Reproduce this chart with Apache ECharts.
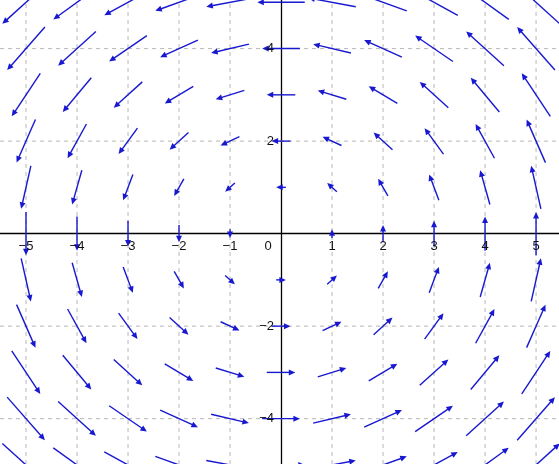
<!DOCTYPE html>
<html><head><meta charset="utf-8">
<script src="https://cdn.jsdelivr.net/npm/echarts@6/dist/echarts.min.js"></script>
<style>html,body{margin:0;padding:0;background:#fff}#c{width:559px;height:464px}</style>
</head><body><div id="c"></div>
<script>
// grid point coordinates
var xs = [-5, -4, -3, -2, -1, 0, 1, 2, 3, 4, 5];
var ys = [-5, -4, -3, -2, -1, 0, 1, 2, 3, 4, 5];
// horizontal component of arrows, one per row (y = -5 .. 5)
var uByRow = [0.93, 0.74, 0.56, 0.37, 0.19, 0, -0.19, -0.37, -0.56, -0.74, -0.93];
// vertical component of arrows, one per column (x = -5 .. 5)
var vByCol = [-0.93, -0.74, -0.56, -0.37, -0.19, 0, 0.19, 0.37, 0.56, 0.74, 0.93];
// tick labels / grid lines
var xTicks = [-5, -4, -3, -2, -1, 0, 1, 2, 3, 4, 5];
var yTicks = [-4, -2, 2, 4];
var xGrid = [-5, -4, -3, -2, -1, 1, 2, 3, 4, 5];
var yGrid = [-4, -2, 2, 4];

var arrows = [];
for (var j = 0; j < ys.length; j++) {
  for (var i = 0; i < xs.length; i++) {
    arrows.push([xs[i], ys[j], uByRow[j], vByCol[i]]);
  }
}
var gridData = [];
xGrid.forEach(function (g) { gridData.push([0, g]); });
yGrid.forEach(function (g) { gridData.push([1, g]); });
var labelData = [];
xTicks.forEach(function (t) { labelData.push([0, t]); });
yTicks.forEach(function (t) { labelData.push([1, t]); });

var XMIN = -5.51, XMAX = 5.45, YMIN = -4.98, YMAX = 5.05;
var col = '#1818d0';
function fmt(v) { return String(v).replace('-', '\u2212'); }

var chart = echarts.init(document.getElementById('c'), null, {renderer: 'canvas'});
chart.setOption({
  animation: false,
  backgroundColor: '#ffffff',
  grid: {left: 0, right: 0, top: 0, bottom: 0, containLabel: false, outerBoundsMode: 'none'},
  xAxis: {
    type: 'value', min: XMIN, max: XMAX,
    axisLine: {onZero: true, lineStyle: {color: '#000', width: 1.3}},
    axisTick: {show: false}, splitLine: {show: false}, axisLabel: {show: false}
  },
  yAxis: {
    type: 'value', min: YMIN, max: YMAX,
    axisLine: {onZero: true, lineStyle: {color: '#000', width: 1.3}},
    axisTick: {show: false}, splitLine: {show: false}, axisLabel: {show: false}
  },
  series: [
    {
      type: 'custom', z: 1, silent: true, clip: true,
      data: gridData,
      renderItem: function (params, api) {
        var kind = api.value(0), g = api.value(1), p1, p2;
        if (kind === 0) { p1 = api.coord([g, YMIN]); p2 = api.coord([g, YMAX]); }
        else { p1 = api.coord([XMIN, g]); p2 = api.coord([XMAX, g]); }
        return {type: 'line', shape: {x1: p1[0], y1: p1[1], x2: p2[0], y2: p2[1]},
          style: {stroke: '#b8b8b8', lineWidth: 1, lineDash: [4, 4]}};
      }
    },
    {
      type: 'custom', z: 5, silent: true, clip: true,
      data: arrows,
      renderItem: function (params, api) {
        var x = api.value(0), y = api.value(1), u = api.value(2), v = api.value(3);
        if (u === 0 && v === 0) return null;
        var a = api.coord([x - u / 2, y - v / 2]);
        var b = api.coord([x + u / 2, y + v / 2]);
        var dx = b[0] - a[0], dy = b[1] - a[1];
        var L = Math.sqrt(dx * dx + dy * dy);
        var ux = dx / L, uy = dy / L;
        var hl = 6.5, hw = 3;
        var bx = b[0] - ux * hl, by = b[1] - uy * hl;
        return {type: 'group', children: [
          {type: 'line', shape: {x1: a[0], y1: a[1], x2: bx + ux, y2: by + uy},
            style: {stroke: col, lineWidth: 1.4}},
          {type: 'polygon', shape: {points: [[b[0], b[1]], [bx - uy * hw, by + ux * hw], [bx + uy * hw, by - ux * hw]]},
            style: {fill: col}}
        ]};
      }
    },
    {
      type: 'custom', z: 6, silent: true, clip: false,
      data: labelData,
      renderItem: function (params, api) {
        var kind = api.value(0), t = api.value(1), p, style;
        if (kind === 0) {
          p = api.coord([t, 0]);
          var xoff = t === 0 ? -13 : 0;
          style = {x: p[0] + xoff, y: p[1] + 13, text: fmt(t), align: 'center', verticalAlign: 'middle'};
        } else {
          p = api.coord([0, t]);
          style = {x: p[0] - 7, y: p[1], text: fmt(t), align: 'right', verticalAlign: 'middle'};
        }
        style.fill = '#111';
        style.font = '13px "Liberation Sans"';
        return {type: 'text', style: style};
      }
    }
  ]
});
</script></body></html>
